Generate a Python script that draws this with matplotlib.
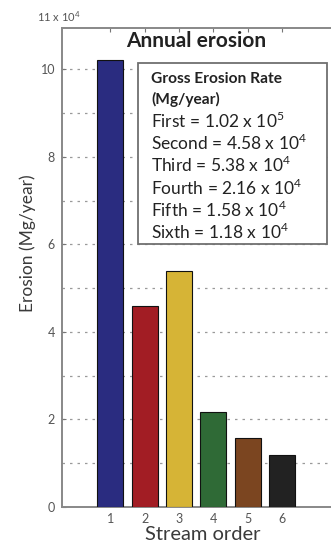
import matplotlib
matplotlib.use("Agg")
import matplotlib.pyplot as plt

plt.rcParams['font.family'] = ['Lato', 'DejaVu Sans']
plt.rcParams['mathtext.fontset'] = 'custom'
plt.rcParams['mathtext.rm'] = 'Lato'

stream_order = [1, 2, 3, 4, 5, 6]
erosion_e4 = [10.2, 4.58, 5.38, 2.16, 1.58, 1.18]   # Mg/year, in units of 10^4
bar_colors = ['#2a2c80', '#a21d24', '#d6b436', '#2f6a36', '#7b4520', '#222222']
legend_lines = [
    "First = 1.02 x 10$^{5}$",
    "Second = 4.58 x 10$^{4}$",
    "Third = 5.38 x 10$^{4}$",
    "Fourth = 2.16 x 10$^{4}$",
    "Fifth = 1.58 x 10$^{4}$",
    "Sixth = 1.18 x 10$^{4}$",
]
yticks = [0, 2, 4, 6, 8, 10]

W, H = 331, 547
fig = plt.figure(figsize=(W / 100, H / 100), dpi=100)
left, right, top, bottom = 62, 340, 28, 507
ax = fig.add_axes([left / W, 1 - bottom / H, (right - left) / W, (bottom - top) / H])

ax.bar(stream_order, erosion_e4, width=0.76, color=bar_colors,
       edgecolor='#111111', linewidth=0.8, zorder=3)

ax.set_xlim(-0.4, 7.68)
ax.set_ylim(0, 10.94)

for y in range(1, 11):
    ax.axhline(y, color='#9a9a9a', linestyle=(0, (2, 4)), linewidth=0.9, zorder=1)

ax.set_yticks(yticks)
ax.set_xticks(stream_order)
ax.tick_params(axis='both', direction='in', length=3, colors='#777777',
               labelcolor='#555555', labelsize=9, top=True, right=True)
ax.tick_params(axis='y', pad=5)
ax.tick_params(axis='x', pad=4)
for s in ax.spines.values():
    s.set_color('#888888')
    s.set_linewidth(1.4)

# axis titles placed at fixed figure positions
fig.text(28 / W, 1 - 243 / H, "Erosion (Mg/year)", fontsize=12.5, color='#3a3a3a',
         rotation=90, ha='center', va='center', rotation_mode='anchor')
fig.text(203 / W, 1 - 535 / H, "Stream order", fontsize=14.5, color='#3a3a3a',
         ha='center', va='center')

fig.text(59 / W, 1 - 17 / H, "11 x 10$^{4}$", fontsize=8, color='#555555',
         ha='center', va='center')

ax.text((196 - left) / (right - left), 1 - (41 - top) / (bottom - top),
        "Annual erosion", transform=ax.transAxes, fontsize=15,
        fontweight='bold', color='#222222', ha='center', va='center')

# legend box with summary rates
bx0, bx1, by0, by1 = 138, 327, 63, 244
box = plt.Rectangle((bx0 / W, 1 - by1 / H), (bx1 - bx0) / W, (by1 - by0) / H,
                    transform=fig.transFigure, facecolor='white',
                    edgecolor='#6f6f6f', linewidth=1.3, zorder=5)
fig.patches.append(box)
fig.text(151 / W, 1 - 79 / H, "Gross Erosion Rate", fontsize=11.2,
         fontweight='bold', color='#222222', va='center', zorder=6)
fig.text(151 / W, 1 - 99 / H, "(Mg/year)", fontsize=11.2,
         fontweight='bold', color='#222222', va='center', zorder=6)
for i, line in enumerate(legend_lines):
    fig.text(151 / W, 1 - (121 + i * 22.2) / H, line, fontsize=12.5,
             color='#222222', va='center', zorder=6)

fig.savefig("out.png", dpi=100)
